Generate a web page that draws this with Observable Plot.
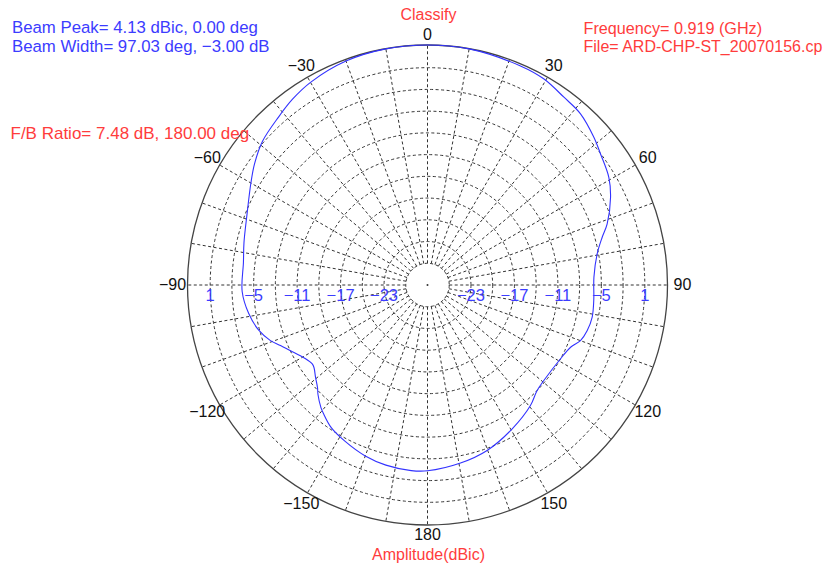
<!DOCTYPE html>
<html><head><meta charset="utf-8">
<script src="https://cdn.jsdelivr.net/npm/d3@7"></script>
<script src="https://cdn.jsdelivr.net/npm/@observablehq/plot@0.6"></script>
<style>html,body{margin:0;padding:0;background:#fff;}</style>
</head><body><div id="chart"></div>
<script>
// ---- data ----
const angles = [-180,-175,-167,-160,-152,-146,-141,-139,-135,-133,-129.5,-126,-124.4,-121,-115.6,-112.4,-109.5,-105,-99,-92,-83,-77,-68.5,-60,-55,-49,-41.5,-36,-30,-20,-10,0,10,23,29.4,36,41.8,48.4,52.8,59.3,64.4,71.2,74.7,79.6,87.3,95.3,101,106,110,113.5,119,129.4,134,139.5,149.5,160.2,169.5];
const gains  = [-3.35,-3.28,-3.48,-3.88,-4.62,-5.24,-6.17,-6.58,-7.62,-8.24,-8.97,-9.63,-9.72,-9.3,-8.03,-7.05,-6.0,-4.88,-4.0,-3.4,-3.4,-3.0,-2.23,-0.85,0.15,1.2,2.0,2.7,3.3,3.9,4.1,4.13,4.1,3.85,3.67,3.04,2.69,1.71,0.97,0.11,-0.98,-2.8,-4.0,-5.19,-6.0,-5.95,-5.84,-6.08,-6.53,-7.46,-8.0,-8.22,-7.99,-7.12,-5.96,-4.72,-4.0];
const ringLevels = [1,-2,-5,-8,-11,-14,-17,-20,-23,-26];
const ringLabels = [1,-5,-11,-17,-23];
const angleTicks = [0,30,60,90,120,150,180,-150,-120,-90,-60,-30];
const spokeAngles = [0,10,20,30,40,50,60,70,80,90,100,110,120,130,140,150,160,170,180,190,200,210,220,230,240,250,260,270,280,290,300,310,320,330,340,350];
const floorDb = -29;
const peakDb = 4.13;
const infoLeft = ["Beam Peak= 4.13 dBic, 0.00 deg", "Beam Width= 97.03 deg, \u22123.00 dB"];
const infoRight = ["Frequency= 0.919 (GHz)", "File= ARD-CHP-ST_20070156.cp"];
const fbText = "F/B Ratio= 7.48 dB, 180.00 deg";
const titleText = "Classify";
const axisText = "Amplitude(dBic)";

// ---- styling ----
const BLUE = "#3c3cff", RED = "#ff3c3c", GRID = "#333", FS = 16;
const R = peakDb - floorDb;
const PX = 240 / R;                       // pixels per dB unit
const rad = d => d * Math.PI / 180;
const tickR = a => (250 + 5 * Math.abs(Math.sin(rad(a)))) / PX;
const fmt = v => String(v).replace("-", "\u2212");
const pattern = angles.map((a, i) => ({a, g: gains[i]}));
const header = (t, anchor, dx, dy, fill, size, textAnchor = "start") =>
  Plot.text([t], {text: d => d, frameAnchor: anchor, dx, dy, fill, textAnchor, lineAnchor: "bottom", fontSize: size});

const chart = Plot.plot({
  width: 827, height: 569,
  marginLeft: 187, marginRight: 160, marginTop: 44.5, marginBottom: 44.5,
  style: {fontFamily: "'Liberation Sans', Arial, sans-serif", background: "#fff"},
  x: {domain: [-R, R], axis: null},
  y: {domain: [-R, R], axis: null},
  r: {type: "linear", domain: [0, R], range: [0, 240]},
  marks: [
    Plot.link(spokeAngles, {
      x1: a => (ringLevels[ringLevels.length - 1] - floorDb) * Math.sin(rad(a)),
      y1: a => (ringLevels[ringLevels.length - 1] - floorDb) * Math.cos(rad(a)),
      x2: a => R * Math.sin(rad(a)), y2: a => R * Math.cos(rad(a)),
      stroke: GRID, strokeWidth: 1, strokeDasharray: "3,2.5"
    }),
    Plot.dot(ringLevels, {x: () => 0, y: () => 0, r: v => v - floorDb, fill: "none", stroke: GRID, strokeWidth: 1, strokeDasharray: "3,2.5"}),
    Plot.dot([peakDb], {x: () => 0, y: () => 0, r: v => v - floorDb, fill: "none", stroke: "#444", strokeWidth: 1.3}),
    Plot.dot([0], {x: () => 0, y: () => 0, r: 1, fill: "#333", stroke: "none"}),
    Plot.line(pattern, {
      x: d => (d.g - floorDb) * Math.sin(rad(d.a)),
      y: d => (d.g - floorDb) * Math.cos(rad(d.a)),
      curve: "catmull-rom-closed", stroke: "#3232ff", strokeWidth: 1.1
    }),
    Plot.text(angleTicks, {
      x: a => tickR(a) * Math.sin(rad(a)), y: a => tickR(a) * Math.cos(rad(a)),
      text: fmt, fill: "#111", fontSize: FS, textAnchor: "middle", lineAnchor: "middle"
    }),
    Plot.text(ringLabels.flatMap(v => [{v, s: -1}, {v, s: 1}]), {
      x: d => d.s * (d.v - floorDb), y: () => 0, dy: 15.5,
      text: d => fmt(d.v), fill: BLUE, fontSize: 16.5, textAnchor: "middle", lineAnchor: "bottom"
    }),
    header(infoLeft[0], "top-left", -175.5, -12.5, BLUE, 16.8),
    header(infoLeft[1], "top-left", -175.5, 7, BLUE, 16.8),
    header(infoRight[0], "top-left", 396, -11.5, RED, 16.2),
    header(infoRight[1], "top-left", 396, 6.5, RED, 16),
    header(fbText, "top-left", -177, 94, RED, 17),
    header(titleText, "top", 1, -24.8, RED, 16, "middle"),
    header(axisText, "bottom", 1, 34.5, RED, 16, "middle")
  ]
});
document.getElementById("chart").append(chart);
</script>
</body></html>
